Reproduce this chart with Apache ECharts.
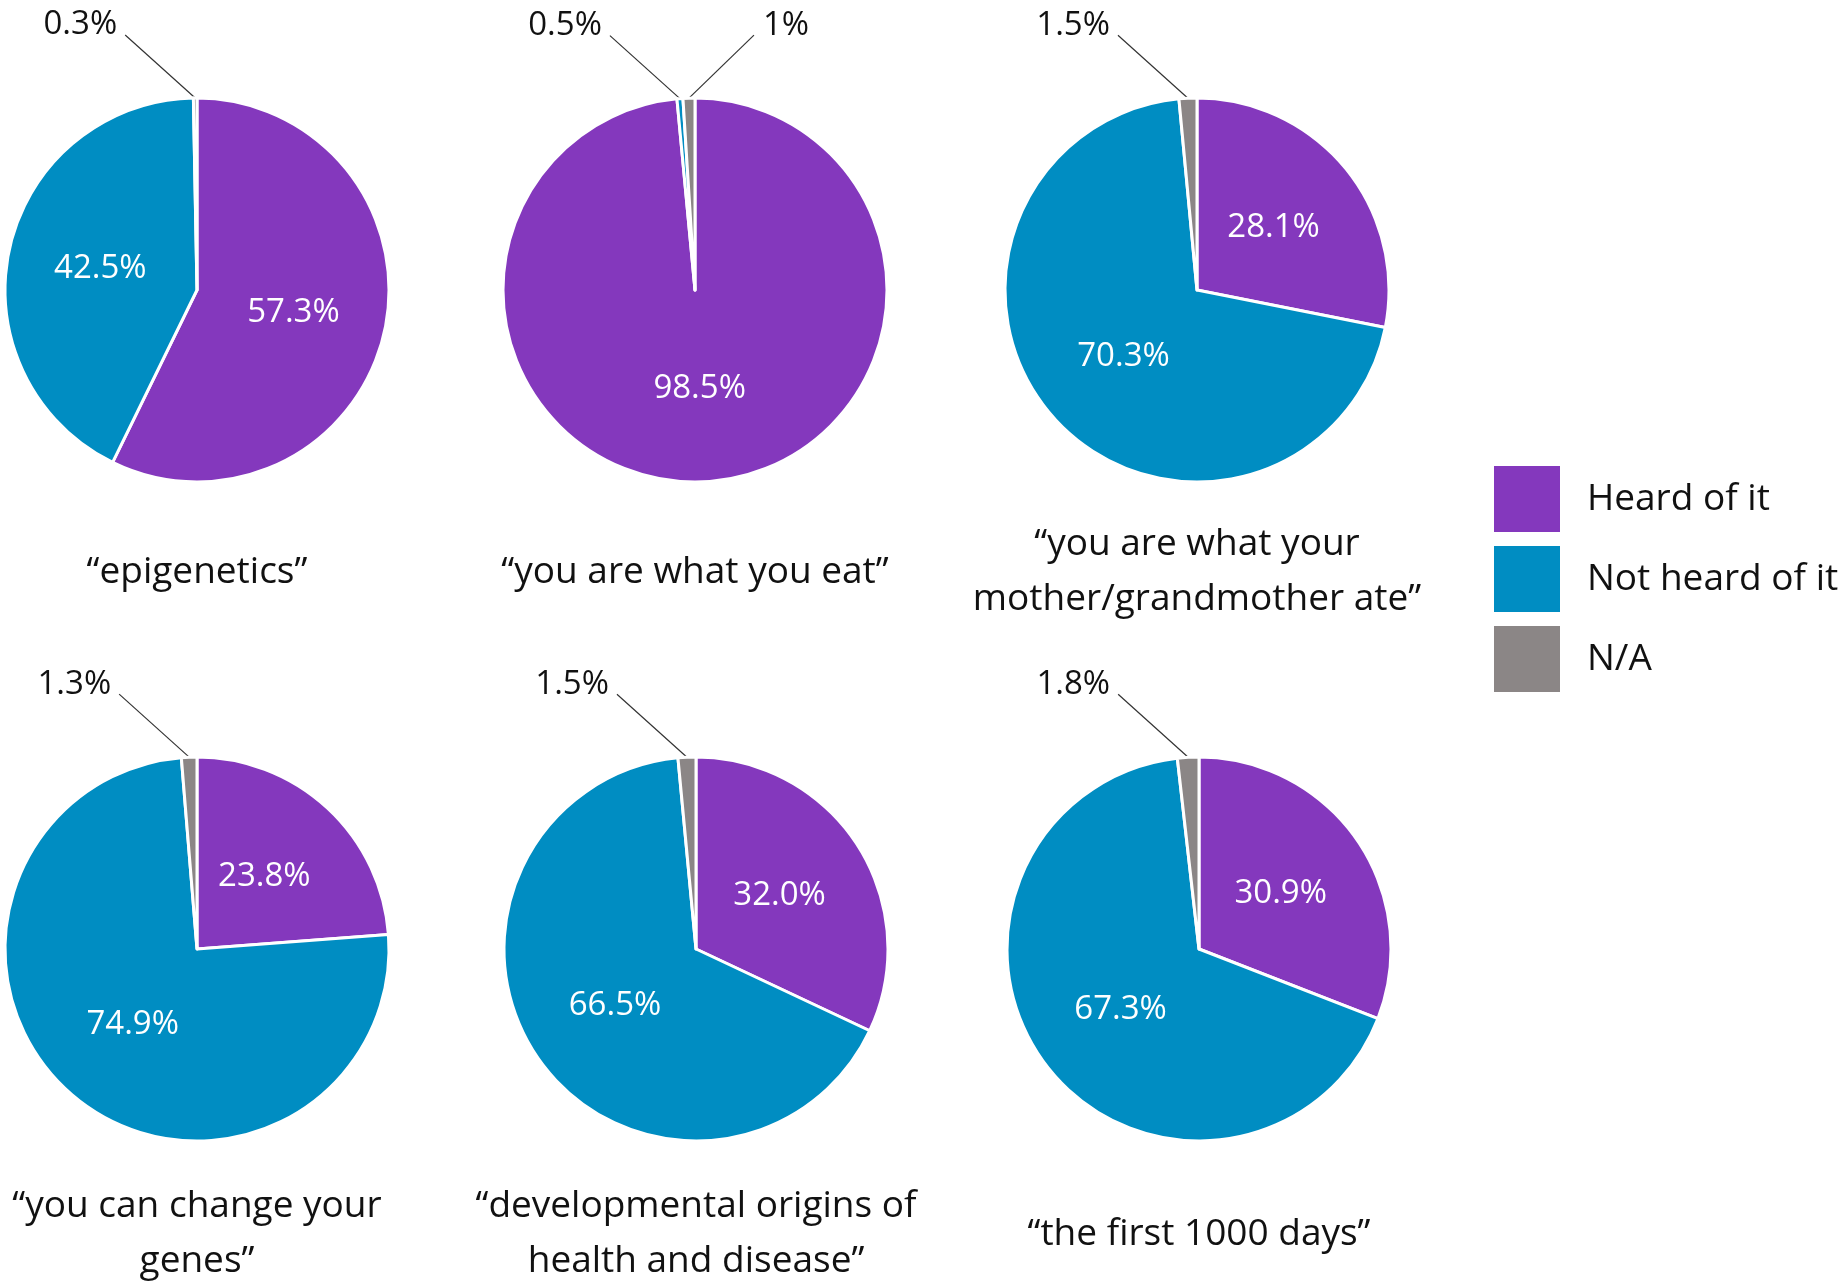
<!DOCTYPE html>
<html>
<head>
<meta charset="utf-8">
<script src="https://cdn.jsdelivr.net/npm/echarts@6/dist/echarts.min.js"></script>
<style>
  html, body { margin: 0; padding: 0; background: #fff; }
  #chart { width: 1842px; height: 1283px; }
</style>
</head>
<body>
<div id="chart"></div>
<script>
// ---- data ----
const categories = ['Heard of it', 'Not heard of it', 'N/A'];
const pieTitles = [
  '“epigenetics”',
  '“you are what you eat”',
  '“you are what your\nmother/grandmother ate”',
  '“you can change your\ngenes”',
  '“developmental origins of\nhealth and disease”',
  '“the first 1000 days”'
];
const heardOfIt    = [57.3, 98.5, 28.1, 23.8, 32.0, 30.9];
const notHeardOfIt = [42.5, 0.5, 70.3, 74.9, 66.5, 67.3];
const notApplicable = [0.3, 1, 1.5, 1.3, 1.5, 1.8];

// ---- layout / style ----
const colors = ['#8438BD', '#008DC2', '#8B8686'];
const centers = [[197, 290], [695, 290], [1197, 290], [197, 949], [696, 949], [1199, 949]];
const titleY = [572, 572, 572, 1234, 1234, 1234];
const RADIUS = 192;
const FONT = '"Open Sans", "Noto Sans", sans-serif';

function fmt(v) {
  return (Number.isInteger(v) && v < 5 ? String(v) : v.toFixed(1)) + '%';
}

const chart = echarts.init(document.getElementById('chart'), null, { renderer: 'canvas' });

const series = centers.map(function (c, i) {
  const vals = [heardOfIt[i], notHeardOfIt[i], notApplicable[i]];
  const smallCount = vals.filter(function (v) { return v < 5; }).length;
  return {
    type: 'pie',
    center: c,
    radius: RADIUS,
    startAngle: 90,
    clockwise: true,
    avoidLabelOverlap: false,
    silent: true,
    itemStyle: { borderColor: '#fff', borderWidth: 3 },
    labelLine: { show: true, length: 10, length2: 0, lineStyle: { color: '#333', width: 1.2 } },
    data: categories.map(function (name, k) {
      const small = vals[k] < 5;
      return {
        name: name,
        value: vals[k],
        label: small ? {
          position: 'outside', color: '#111', fontSize: 33, fontFamily: FONT,
          formatter: function (p) { return fmt(p.value); }
        } : {
          position: 'inside', color: '#fff', fontSize: 33, fontFamily: FONT,
          formatter: function (p) { return fmt(p.value); }
        },
        labelLine: { show: small }
      };
    }),
    labelLayout: function (params) {
      const v = vals[params.dataIndex];
      if (!(v < 5) || !params.labelLinePoints) return {};
      const p0 = params.labelLinePoints[0];
      // when two small slices sit together, the last one is led to the right
      const toRight = smallCount > 1 && params.dataIndex === 2;
      const ex = p0[0] + (toRight ? 65 : -70);
      const ey = p0[1] - 63;
      return {
        x: ex + (toRight ? 9 : -8),
        y: ey - 10,
        align: toRight ? 'left' : 'right',
        verticalAlign: 'middle',
        labelLinePoints: [p0, [ex, ey], [ex, ey]]
      };
    }
  };
});

const titles = pieTitles.map(function (t, i) {
  return {
    text: t,
    left: centers[i][0],
    top: titleY[i],
    textAlign: 'center',
    textVerticalAlign: 'middle',
    padding: 0,
    textStyle: { fontSize: 37, fontWeight: 'normal', color: '#111', fontFamily: FONT, lineHeight: 55 }
  };
});

chart.setOption({
  animation: false,
  color: colors,
  title: titles,
  legend: {
    orient: 'vertical',
    left: 1494,
    top: 466,
    padding: 0,
    itemWidth: 66,
    itemHeight: 66,
    itemGap: 14,
    icon: 'rect',
    selectedMode: false,
    data: categories,
    itemStyle: { borderWidth: 0 },
    textStyle: { fontSize: 37, color: '#111', fontFamily: FONT, padding: [0, 0, 0, 22] }
  },
  series: series
});
</script>
</body>
</html>
